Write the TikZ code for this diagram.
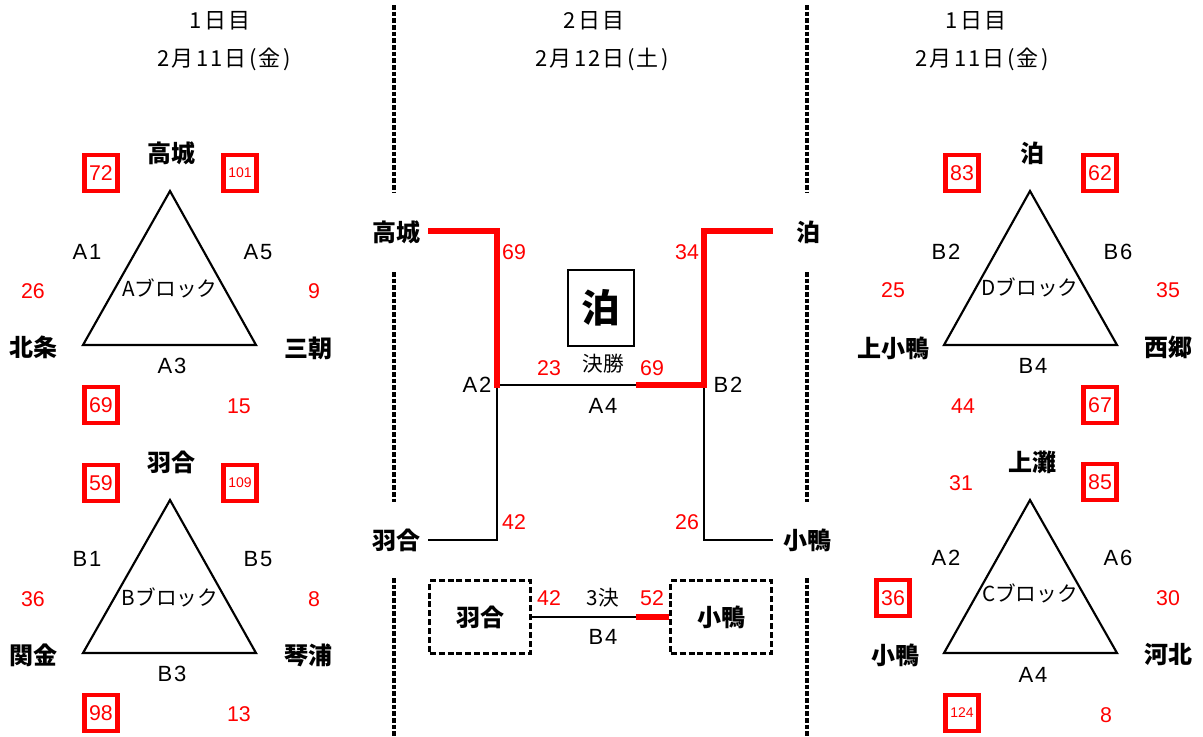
\documentclass[tikz,border=0pt]{standalone}
\usepackage{fontspec}
\setmainfont{Noto Sans CJK JP}
\newfontfamily\hdrfont[LetterSpace=10]{Noto Sans CJK JP}
\newfontfamily\latfont[LetterSpace=8]{Liberation Sans}
\newfontfamily\numfont{Liberation Sans}
\begin{document}
\begin{tikzpicture}[x=0.75pt,y=-0.75pt,
  hdr/.style={font=\hdrfont\fontsize{16.5}{16.5}\selectfont, inner sep=0pt},
  team/.style={font=\fontsize{18}{18}\selectfont\bfseries, inner sep=0pt},
  lbl/.style={font=\latfont\fontsize{16.5}{16.5}\selectfont, inner sep=0pt},
  blk/.style={font=\fontsize{15.5}{15.5}\selectfont, inner sep=0pt},
  sc/.style={text=red, font=\numfont\fontsize{16}{16}\selectfont, inner sep=0pt},
  scs/.style={text=red, font=\numfont\fontsize{10.5}{10.5}\selectfont, inner sep=0pt},
  win/.style={draw=red, line width=3.6pt, minimum width=25pt, minimum height=27pt, inner sep=0pt},
  tri/.style={draw=black, line width=1.6pt, line join=miter},
  divline/.style={draw=black, line width=2.3pt, dash pattern=on 3.6pt off 1.4pt},
  redw/.style={draw=red, line width=4.6pt},
  blkw/.style={draw=black, line width=2.2pt},
  dbox/.style={draw=black, line width=2.2pt, dash pattern=on 4.5pt off 2.2pt, minimum width=75.5pt, minimum height=54.5pt, inner sep=0pt, font=\fontsize{18}{18}\selectfont\bfseries},
  champ/.style={draw=black, line width=2.2pt, minimum width=49.5pt, minimum height=57pt, inner sep=0pt, font=\fontsize{29}{29}\selectfont\bfseries}
]
\useasboundingbox (0,0) rectangle (1203,736);

% day dividers
\draw[divline] (394,5) -- (394,193);
\draw[divline] (394,272) -- (394,502);
\draw[divline] (394,578) -- (394,736);
\draw[divline] (807,5) -- (807,193);
\draw[divline] (807,272) -- (807,502);
\draw[divline] (807,578) -- (807,736);

% headers
\node[hdr] (h1a) at (220,21) {1日目};
\node[hdr] (h1b) at (224,59) {2月11日(金)};
\node[hdr] (h2a) at (594,21) {2日目};
\node[hdr] (h2b) at (602,59) {2月12日(土)};
\node[hdr] (h3a) at (976,21) {1日目};
\node[hdr] (h3b) at (982,59) {2月11日(金)};

% ---------- A block ----------
\coordinate (Aa) at (170,191);
\coordinate (Ab) at (83,345);
\coordinate (Ac) at (256,345);
\draw[tri] (Aa) -- (Ab) -- (Ac) -- cycle;
\node[team] (tA1) at (171,153) {高城};
\node[team] (tA2) at (33,347) {北条};
\node[team] (tA3) at (308,348) {三朝};
\node[blk] (bA) at (170,288) {Aブロック};
\node[lbl] (gA1) at (87,252) {A1};
\node[lbl] (gA5) at (258,252) {A5};
\node[lbl] (gA3) at (172,366) {A3};
\node[win,sc] (sA1) at (101,173) {72};
\node[win,scs] (sA2) at (240,173) {101};
\node[sc] (sA3) at (33,291) {26};
\node[sc] (sA4) at (314,291) {9};
\node[win,sc] (sA5) at (101,405) {69};
\node[sc] (sA6) at (239,406) {15};

% ---------- B block ----------
\coordinate (Ba) at (170,500);
\coordinate (Bb) at (83,653);
\coordinate (Bc) at (256,653);
\draw[tri] (Ba) -- (Bb) -- (Bc) -- cycle;
\node[team] (tB1) at (171,462) {羽合};
\node[team] (tB2) at (33,655) {関金};
\node[team] (tB3) at (308,655) {琴浦};
\node[blk] (bB) at (170,597) {Bブロック};
\node[lbl] (gB1) at (87,559) {B1};
\node[lbl] (gB5) at (258,559) {B5};
\node[lbl] (gB3) at (172,674) {B3};
\node[win,sc] (sB1) at (101,483) {59};
\node[win,scs] (sB2) at (240,483) {109};
\node[sc] (sB3) at (33,599) {36};
\node[sc] (sB4) at (314,599) {8};
\node[win,sc] (sB5) at (101,713) {98};
\node[sc] (sB6) at (239,714) {13};

% ---------- D block ----------
\coordinate (Da) at (1030,191);
\coordinate (Db) at (944,345);
\coordinate (Dc) at (1117,345);
\draw[tri] (Da) -- (Db) -- (Dc) -- cycle;
\node[team] (tD1) at (1032,153) {泊};
\node[team] (tD2) at (893,348) {上小鴨};
\node[team] (tD3) at (1168,347) {西郷};
\node[blk] (bD) at (1030,287) {Dブロック};
\node[lbl] (gD1) at (946,252) {B2};
\node[lbl] (gD5) at (1118,252) {B6};
\node[lbl] (gD3) at (1033,366) {B4};
\node[win,sc] (sD1) at (962,173) {83};
\node[win,sc] (sD2) at (1100,173) {62};
\node[sc] (sD3) at (893,290) {25};
\node[sc] (sD4) at (1168,290) {35};
\node[sc] (sD5) at (963,406) {44};
\node[win,sc] (sD6) at (1100,405) {67};

% ---------- C block ----------
\coordinate (Ca) at (1030,500);
\coordinate (Cb) at (944,653);
\coordinate (Cc) at (1117,653);
\draw[tri] (Ca) -- (Cb) -- (Cc) -- cycle;
\node[team] (tC1) at (1032,462) {上灘};
\node[team] (tC2) at (895,655) {小鴨};
\node[team] (tC3) at (1168,655) {河北};
\node[blk] (bC) at (1030,593) {Cブロック};
\node[lbl] (gC1) at (946,558) {A2};
\node[lbl] (gC5) at (1118,558) {A6};
\node[lbl] (gC3) at (1033,675) {A4};
\node[sc] (sC1) at (961,483) {31};
\node[win,sc] (sC2) at (1100,482) {85};
\node[win,sc] (sC3) at (893,598) {36};
\node[sc] (sC4) at (1168,598) {30};
\node[win,scs] (sC5) at (962,713) {124};
\node[sc] (sC6) at (1106,715) {8};

% ---------- final bracket ----------
\node[team] (fA) at (396,232) {高城};
\node[team] (fB) at (808,232) {泊};
\node[team] (fC) at (396,540) {羽合};
\node[team] (fD) at (807,540) {小鴨};
\coordinate (L1) at (428,231);
\coordinate (R1) at (773,231);
\coordinate (L2) at (428,540);
\coordinate (R2) at (773,540);
\coordinate (JA) at (497,385);
\coordinate (JB) at (704,385);
\coordinate (JM) at (636,385);
\draw[blkw] (L2) -| (JA);
\draw[blkw] (R2) -| (JB);
\draw[blkw] (JA) -- (JM);
\draw[redw] (L1) -| ([yshift=-2]JA);
\draw[redw] (R1) -| ([yshift=-2]JB);
\draw[redw] (JM) -- ([xshift=2]JB);

\node[champ] (champ) at (601,308) {泊};
\node[blk] (fin) at (603,364) {決勝};
\node[sc] (f1) at (514,252) {69};
\node[sc] (f2) at (687,252) {34};
\node[sc] (f3) at (549,368) {23};
\node[sc] (f4) at (652,368) {69};
\node[sc] (f5) at (514,522) {42};
\node[sc] (f6) at (687,522) {26};
\node[lbl] (gJA) at (477,385) {A2};
\node[lbl] (gJB) at (728,385) {B2};
\node[lbl] (gJM) at (603,406) {A4};

% ---------- third place ----------
\node[dbox] (pA) at (480,617) {羽合};
\node[dbox] (pB) at (721,617) {小鴨};
\coordinate (PM) at (636,617);
\draw[blkw] (pA.east) -- (PM);
\draw[redw] (PM) -- (pB.west);
\node[blk] (third) at (603,598) {3決};
\node[sc] (p1) at (549,598) {42};
\node[sc] (p2) at (652,598) {52};
\node[lbl] (gP) at (603,637) {B4};
\end{tikzpicture}
\end{document}
